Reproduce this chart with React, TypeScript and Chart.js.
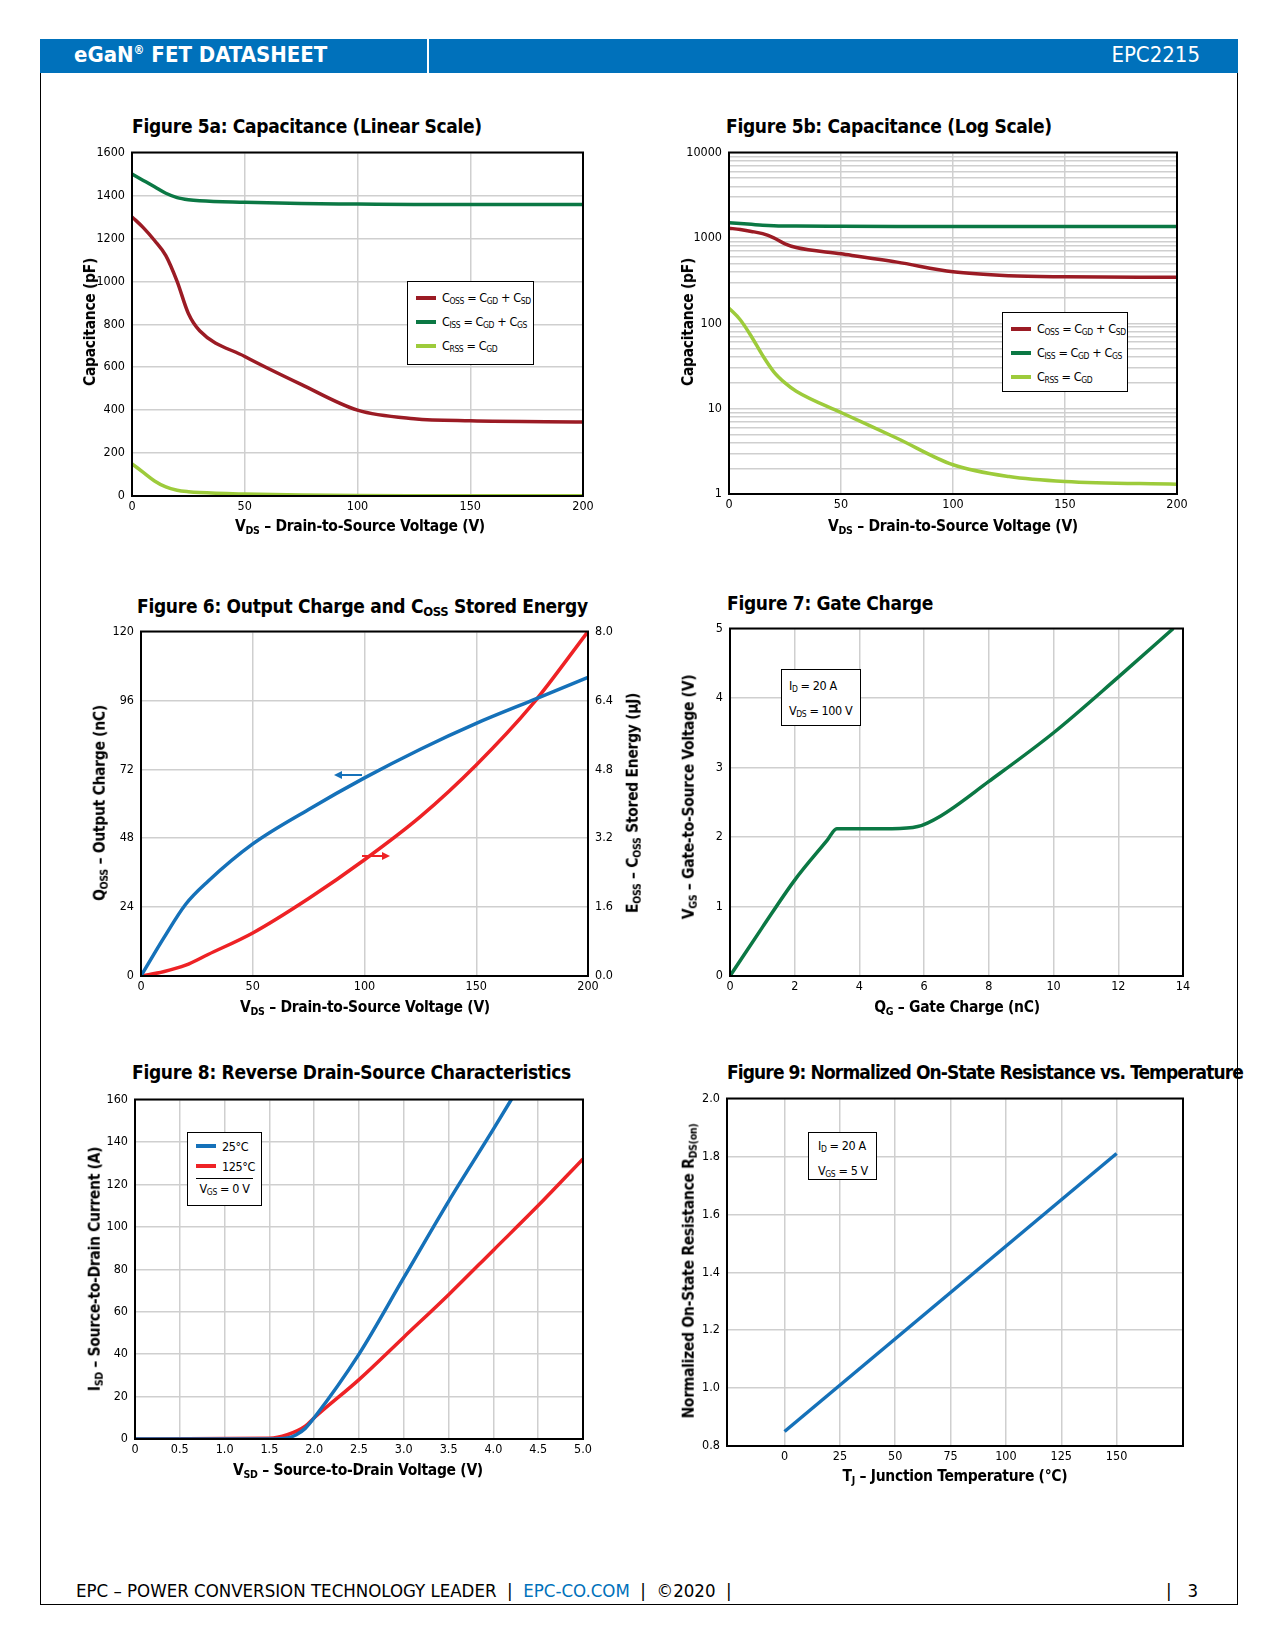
import React, { useEffect, useRef } from 'react';
import { Chart, registerables } from 'chart.js';

Chart.register(...registerables);

// ---- data ----
const capVds = [0, 5, 10, 15, 20, 25, 30, 50, 75, 100, 125, 150, 200];
const cossPf = [1300, 1250, 1190, 1120, 1000, 850, 770, 650, 520, 400, 360, 350, 345];
const cissPf = [1500, 1470, 1440, 1410, 1390, 1380, 1375, 1368, 1362, 1360, 1358, 1358, 1358];
const crssPf = [150, 110, 70, 42, 27, 20, 16, 9, 4.5, 2.2, 1.6, 1.4, 1.3];

const qVds = [0, 10, 20, 30, 50, 75, 100, 125, 150, 175, 200];
const qossNc = [0, 13, 25, 33, 46, 58, 69, 79, 88, 96, 104];
const eossUj = [0, 0.1, 0.25, 0.5, 1.0, 1.8, 2.7, 3.7, 4.9, 6.3, 8.0];

const qgNc = [0, 1, 2, 3, 3.3, 4, 5, 5.8, 6.5, 8, 10, 12, 13.7];
const vgsV = [0, 0.7, 1.38, 1.95, 2.12, 2.12, 2.12, 2.15, 2.3, 2.8, 3.5, 4.3, 5.0];

const vsdV = [0, 1.5, 1.7, 1.8, 1.9, 2.0, 2.5, 3.0, 3.5, 4.0, 4.3];
const isd25A = [0, 0, 0.5, 2, 5, 10, 40, 76, 112, 146, 167];
const vsd125V = [0, 1.5, 1.7, 1.9, 2.0, 2.5, 3.0, 3.5, 4.0, 4.5, 5.0];
const isd125A = [0, 0.3, 2, 6, 10, 28, 48, 68, 89, 110, 132];

const tjC = [0, 150];
const rdsNorm = [0.85, 1.81];
const tjTicks = [0, 25, 50, 75, 100, 125, 150];

const FONT = "'DejaVu Sans Condensed', 'DejaVu Sans', sans-serif";
const GRID = '#cfcfcf';
const C_COSS = '#9b1b24';
const C_CISS = '#0b7844';
const C_CRSS = '#9dcb3b';
const BLUE = '#1571b9';
const RED = '#ee2225';

const pts = (xs: number[], ys: number[]) => xs.map((x, i) => ({ x, y: ys[i] }));

const L = 60, R = 60, T = 14, B = 30;

const frame = {
  id: 'frame',
  afterDraw(chart: any) {
    const { ctx, chartArea: a } = chart;
    ctx.save();
    ctx.strokeStyle = '#000';
    ctx.lineWidth = 2;
    ctx.strokeRect(a.left, a.top, a.right - a.left, a.bottom - a.top);
    ctx.restore();
  },
};

const tickFont = { family: FONT, size: 12.5, weight: 'normal condensed' };

function line(data: any[], color: string, yAxisID = 'y') {
  return {
    data, borderColor: color, borderWidth: 3.5, pointRadius: 0, fill: false,
    cubicInterpolationMode: 'monotone', yAxisID,
  };
}

function xAxis(min: number, max: number, step: number, fmt?: (v: number) => string, gridOn = true) {
  return {
    type: 'linear', min, max,
    ticks: { stepSize: step, color: '#000', font: tickFont, padding: 3, maxRotation: 0,
      callback: (v: any) => (fmt ? fmt(v) : String(v)) },
    grid: { color: gridOn ? GRID : 'transparent', lineWidth: 1.5, drawTicks: false },
    border: { display: false },
    afterFit: (s: any) => { s.height = B; },
  };
}

function yAxis(min: number, max: number, step: number, fmt?: (v: number) => string, position = 'left', gridOn = true) {
  return {
    type: 'linear', min, max, position,
    ticks: { stepSize: step, color: '#000', font: tickFont, padding: 7,
      callback: (v: any) => (fmt ? fmt(v) : String(v)) },
    grid: { color: gridOn ? GRID : 'transparent', lineWidth: 1.5, drawTicks: false },
    border: { display: false },
    afterFit: (s: any) => { s.width = position === 'left' ? L : R; },
  };
}

function Plot({ left, top, width, height, make, rightAxis = false }: any) {
  const ref = useRef<HTMLCanvasElement>(null);
  useEffect(() => {
    if (!ref.current) return;
    const cfg = make();
    cfg.plugins = [frame];
    cfg.options = {
      ...cfg.options,
      animation: false, responsive: false, maintainAspectRatio: false,
      layout: { padding: { top: T, right: rightAxis ? 0 : R, left: 0, bottom: 0 } },
      plugins: { legend: { display: false }, tooltip: { enabled: false } },
    };
    const ch = new Chart(ref.current, cfg);
    return () => ch.destroy();
  }, []);
  return (
    <canvas ref={ref} width={width + L + R} height={height + T + B}
      style={{ position: 'absolute', left: left - L, top: top - T, width: width + L + R, height: height + T + B }} />
  );
}

const S = ({ c }: { c: string }) => <sub style={{ fontSize: '0.68em', verticalAlign: '-0.25em' }}>{c}</sub>;

const txt = (extra: any): any => ({ position: 'absolute', fontFamily: FONT, fontStretch: 'condensed', whiteSpace: 'nowrap', ...extra });

function Title({ x, y, ls = -0.3, children }: any) {
  return <div style={txt({ left: x, top: y - 12, fontSize: 19, fontWeight: 'bold', letterSpacing: ls + 'px' })}>{children}</div>;
}
function XTitle({ cx, y, children }: any) {
  return <div style={txt({ left: cx, top: y - 10, fontSize: 15.5, fontWeight: 'bold', letterSpacing: '-0.3px', transform: 'translateX(-50%)' })}>{children}</div>;
}
function YTitle({ x, cy, children }: any) {
  return <div style={txt({ left: x, top: cy, fontSize: 15.5, fontWeight: 'bold', letterSpacing: '-0.3px', transform: 'translate(-50%,-50%) rotate(-90deg)' })}>{children}</div>;
}
function Box({ x, y, w, h, children }: any) {
  return <div style={txt({ left: x, top: y, width: w, height: h, border: '1px solid #000', background: '#fff', fontSize: 12.5, letterSpacing: '-0.4px', boxSizing: 'border-box', overflow: 'hidden' })}>{children}</div>;
}
function Swatch({ color }: { color: string }) {
  return <span style={{ display: 'inline-block', flexShrink: 0, width: 20, height: 4, background: color, margin: '0 6px 0 8px' }} />;
}
function LegRow({ color, children }: any) {
  return (
    <div style={{ display: 'flex', alignItems: 'center', height: 24 }}>
      <Swatch color={color} />
      <span>{children}</span>
    </div>
  );
}

const capLegend = (
  <>
    <div style={{ height: 4 }} />
    <LegRow color={C_COSS}>C<S c="OSS" /> = C<S c="GD" /> + C<S c="SD" /></LegRow>
    <LegRow color={C_CISS}>C<S c="ISS" /> = C<S c="GD" /> + C<S c="GS" /></LegRow>
    <LegRow color={C_CRSS}>C<S c="RSS" /> = C<S c="GD" /></LegRow>
  </>
);

const logTicks: number[] = [];
for (let k = 0; k < 4; k++) for (let d = 1; d < 10; d++) logTicks.push(d * Math.pow(10, k));
logTicks.push(10000);

export default function App() {
  return (
    <div style={{ position: 'absolute', left: 0, top: 0, width: 1275, height: 1650, background: '#fff', fontFamily: FONT }}>
      {/* header & page frame */}
      <div style={{ position: 'absolute', left: 40, top: 39, width: 1198, height: 1566, border: '1.5px solid #000', boxSizing: 'border-box' }} />
      <div style={{ position: 'absolute', left: 40, top: 39, width: 1198, height: 34, background: '#0071bb' }} />
      <div style={{ position: 'absolute', left: 427, top: 39, width: 2, height: 34, background: '#fff' }} />
      <div style={txt({ left: 74, top: 42, color: '#fff', fontSize: 22, fontWeight: 'bold' })}>eGaN<sup style={{ fontSize: '0.55em' }}>®</sup> FET DATASHEET</div>
      <div style={txt({ right: 1275 - 1200, top: 42, color: '#fff', fontSize: 22 })}>EPC2215</div>
      {/* footer */}
      <div style={txt({ left: 76, top: 1580, fontSize: 18.5 })}>
        EPC – POWER CONVERSION TECHNOLOGY LEADER &nbsp;|&nbsp; <span style={{ color: '#0071bb' }}>EPC-CO.COM</span> &nbsp;|&nbsp; ©2020 &nbsp;|
      </div>
      <div style={txt({ left: 1166, top: 1580, fontSize: 18.5 })}>|&nbsp;&nbsp; 3</div>

      {/* Figure 5a */}
      <Title x={132} y={127}>Figure 5a: Capacitance (Linear Scale)</Title>
      <Plot left={132} top={152} width={451} height={344} make={() => ({
        type: 'line',
        data: { datasets: [line(pts(capVds, cossPf), C_COSS), line(pts(capVds, cissPf), C_CISS), line(pts(capVds, crssPf), C_CRSS)] },
        options: { scales: { x: xAxis(0, 200, 50), y: yAxis(0, 1600, 200) } },
      })} />
      <YTitle x={90} cy={322}>Capacitance (pF)</YTitle>
      <XTitle cx={360} y={527}>V<S c="DS" /> – Drain-to-Source Voltage (V)</XTitle>
      <Box x={407} y={281} w={127} h={84}>{capLegend}</Box>

      {/* Figure 5b */}
      <Title x={726} y={127}>Figure 5b: Capacitance (Log Scale)</Title>
      <Plot left={729} top={152} width={448} height={342} make={() => ({
        type: 'line',
        data: { datasets: [line(pts(capVds, cossPf), C_COSS), line(pts(capVds, cissPf), C_CISS), line(pts(capVds, crssPf), C_CRSS)] },
        options: {
          scales: {
            x: xAxis(0, 200, 50),
            y: {
              ...yAxis(1, 10000, 1), type: 'logarithmic',
              afterBuildTicks: (s: any) => { s.ticks = logTicks.map((v) => ({ value: v })); },
              ticks: { color: '#000', font: tickFont, padding: 7, autoSkip: false,
                callback: (v: any) => ([1, 10, 100, 1000, 10000].includes(v) ? String(v) : '') },
            },
          },
        },
      })} />
      <YTitle x={688} cy={322}>Capacitance (pF)</YTitle>
      <XTitle cx={953} y={527}>V<S c="DS" /> – Drain-to-Source Voltage (V)</XTitle>
      <Box x={1002} y={312} w={126} h={80}>{capLegend}</Box>

      {/* Figure 6 */}
      <Title x={137} y={607}>Figure 6: Output Charge and C<S c="OSS" /> Stored Energy</Title>
      <Plot left={141} top={631} width={447} height={345} rightAxis make={() => ({
        type: 'line',
        data: { datasets: [line(pts(qVds, qossNc), BLUE), line(pts(qVds, eossUj), RED, 'y1')] },
        options: {
          scales: {
            x: xAxis(0, 200, 50),
            y: yAxis(0, 120, 24),
            y1: yAxis(0, 8, 1.6, (v) => v.toFixed(1), 'right', false),
          },
        },
      })} />
      <svg style={{ position: 'absolute', left: 330, top: 765, width: 70, height: 100 }}>
        <line x1={8} y1={10} x2={32} y2={10} stroke={BLUE} strokeWidth={2} />
        <polygon points="4,10 12,6 12,14" fill={BLUE} />
        <line x1={32} y1={91} x2={56} y2={91} stroke={RED} strokeWidth={2} />
        <polygon points="60,91 52,87 52,95" fill={RED} />
      </svg>
      <YTitle x={100} cy={803}>Q<S c="OSS" /> – Output Charge (nC)</YTitle>
      <YTitle x={633} cy={803}>E<S c="OSS" /> – C<S c="OSS" /> Stored Energy (µJ)</YTitle>
      <XTitle cx={365} y={1008}>V<S c="DS" /> – Drain-to-Source Voltage (V)</XTitle>

      {/* Figure 7 */}
      <Title x={727} y={604}>Figure 7: Gate Charge</Title>
      <Plot left={730} top={628} width={453} height={348} make={() => ({
        type: 'line',
        data: { datasets: [line(pts(qgNc, vgsV), C_CISS)] },
        options: { scales: { x: xAxis(0, 14, 2), y: yAxis(0, 5, 1) } },
      })} />
      <YTitle x={689} cy={797}>V<S c="GS" /> – Gate-to-Source Voltage (V)</YTitle>
      <XTitle cx={957} y={1008}>Q<S c="G" /> – Gate Charge (nC)</XTitle>
      <Box x={781} y={669} w={80} h={57}>
        <div style={{ padding: '5px 0 0 7px', lineHeight: '22px' }}>I<S c="D" /> = 20 A<br />V<S c="DS" /> = 100 V</div>
      </Box>

      {/* Figure 8 */}
      <Title x={132} y={1073}>Figure 8: Reverse Drain-Source Characteristics</Title>
      <Plot left={135} top={1099} width={448} height={340} make={() => ({
        type: 'line',
        data: { datasets: [line(pts(vsdV, isd25A), BLUE), line(pts(vsd125V, isd125A), RED)] },
        options: { scales: { x: xAxis(0, 5, 0.5, (v) => (v === 0 ? '0' : v.toFixed(1))), y: yAxis(0, 160, 20) } },
      })} />
      <YTitle x={95} cy={1269}>I<S c="SD" /> – Source-to-Drain Current (A)</YTitle>
      <XTitle cx={358} y={1471}>V<S c="SD" /> – Source-to-Drain Voltage (V)</XTitle>
      <Box x={187} y={1132} w={75} h={74}>
        <div style={{ height: 3 }} />
        <div style={{ display: 'flex', alignItems: 'center', height: 20 }}>
          <Swatch color={BLUE} />25°C
        </div>
        <div style={{ display: 'flex', alignItems: 'center', height: 20 }}>
          <Swatch color={RED} />125°C
        </div>
        <div style={{ borderTop: '1px solid #000', margin: '2px 8px 0 8px', paddingTop: 2, textAlign: 'center' }}>V<S c="GS" /> = 0 V</div>
      </Box>

      {/* Figure 9 */}
      <Title x={727} y={1073} ls={-0.9}>Figure 9: Normalized On-State Resistance vs. Temperature</Title>
      <Plot left={727} top={1098} width={456} height={348} make={() => ({
        type: 'line',
        data: { datasets: [line(pts(tjC, rdsNorm), BLUE)] },
        options: {
          scales: {
            x: { ...xAxis(-26, 180, 25), afterBuildTicks: (s: any) => { s.ticks = tjTicks.map((v) => ({ value: v })); } },
            y: yAxis(0.8, 2.0, 0.2, (v) => v.toFixed(1)),
          },
        },
      })} />
      <YTitle x={689} cy={1271}>Normalized On-State Resistance R<S c="DS(on)" /></YTitle>
      <XTitle cx={955} y={1477}>T<S c="J" /> – Junction Temperature (°C)</XTitle>
      <Box x={808} y={1132} w={69} h={48}>
        <div style={{ padding: '2px 0 0 9px', lineHeight: '21px' }}>I<S c="D" /> = 20 A<br />V<S c="GS" /> = 5 V</div>
      </Box>
    </div>
  );
}
